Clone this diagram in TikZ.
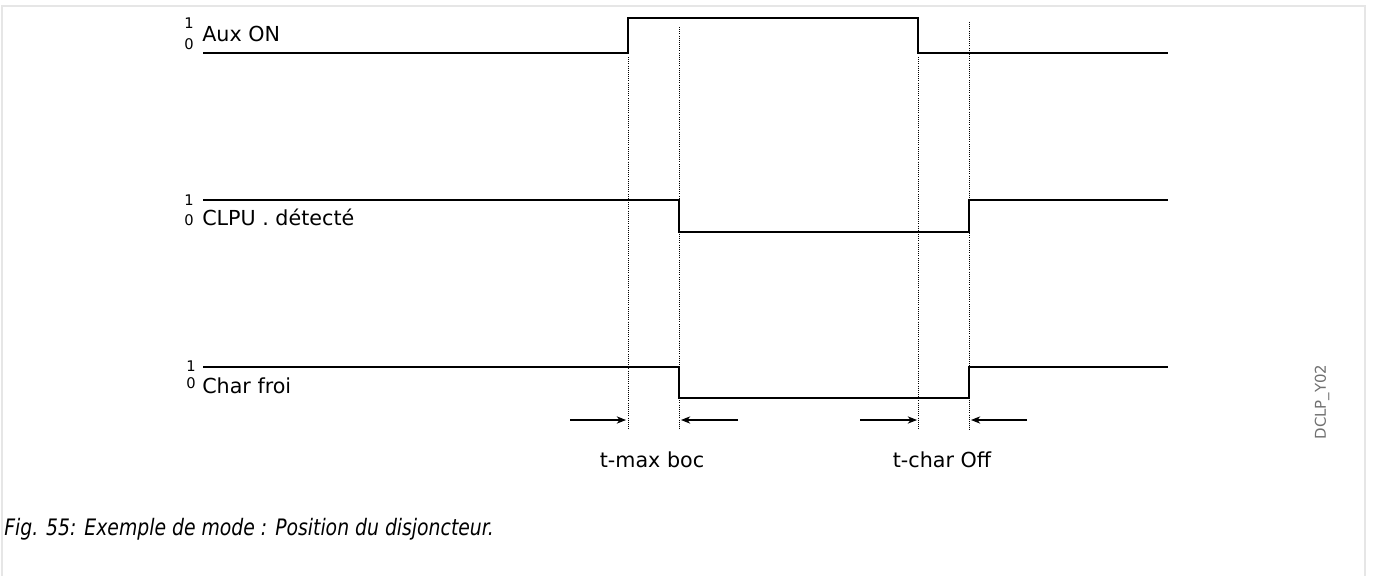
\documentclass[tikz,border=0pt]{standalone}
\usepackage{fontspec}
\setmainfont{DejaVu Sans}
\newfontfamily\captionfont[FakeStretch=0.83]{DejaVu Sans}
\usepackage{tikz}
\usetikzlibrary{arrows.meta}
\definecolor{framegray}{HTML}{E6E6E6}
\definecolor{taggray}{HTML}{707070}

\begin{document}
\begin{tikzpicture}[
  x=0.75pt, y=-0.75pt,
  signal/.style={line width=2.2pt, line join=miter},
  marker/.style={densely dotted, line width=0.6pt},
  timearrow/.style={-{Stealth[length=7pt, width=5.5pt]}, line width=0.8pt},
  siglabel/.style={anchor=base west, inner sep=0pt, font=\fontsize{15.5}{18}\selectfont},
  levellabel/.style={anchor=base, inner sep=0pt, font=\fontsize{11}{13}\selectfont},
  timelabel/.style={anchor=base, inner sep=0pt, font=\fontsize{15.5}{18}\selectfont}
]
\useasboundingbox (0,0) rectangle (1378,576);
\draw[framegray, line width=1.5pt] (2,576) -- (2,6) -- (1365,6) -- (1365,576);

% signals
\draw[signal] (203,53) -- (628,53) -- (628,18) -- (918,18) -- (918,53) -- (1168,53);
\draw[signal] (203,200) -- (679,200) -- (679,232) -- (969,232) -- (969,200) -- (1168,200);
\draw[signal] (203,367) -- (679,367) -- (679,398) -- (969,398) -- (969,367) -- (1168,367);

% signal names and levels
\node[siglabel] (aux) at (202,41) {Aux ON};
\node[levellabel] (aux1) at (189,28) {1};
\node[levellabel] (aux0) at (189,49) {0};
\node[siglabel] (clpu) at (202,225) {CLPU . détecté};
\node[levellabel] (clpu1) at (189,205) {1};
\node[levellabel] (clpu0) at (189,225) {0};
\node[siglabel] (cold) at (202,393) {Char froi};
\node[levellabel] (cold1) at (191,371) {1};
\node[levellabel] (cold0) at (191,388) {0};

% time markers
\coordinate (m1) at (628,57);
\coordinate (m2) at (679,27);
\coordinate (m3) at (918,57);
\coordinate (m4) at (969,22);
\draw[marker] (m1) -- (m1 |- 0,430);
\draw[marker] (m2) -- (m2 |- 0,430);
\draw[marker] (m3) -- (m3 |- 0,430);
\draw[marker] (m4) -- (m4 |- 0,430);

\coordinate (a1) at (570,420);
\coordinate (b1) at (626,420);
\coordinate (a2) at (738,420);
\coordinate (b2) at (681,420);
\coordinate (a3) at (860,420);
\coordinate (b3) at (917,420);
\coordinate (a4) at (1027,420);
\coordinate (b4) at (971,420);
\draw[timearrow] (a1) -- (b1);
\draw[timearrow] (a2) -- (b2);
\draw[timearrow] (a3) -- (b3);
\draw[timearrow] (a4) -- (b4);

\node[timelabel] (tmax) at (652,467) {t-max boc};
\node[timelabel] (tchar) at (942,467) {t-char Off};

% tag and caption
\node[rotate=90, inner sep=0pt, text=taggray, font=\fontsize{11.2}{13}\selectfont] (tag) at (1322,402) {DCLP\_Y02};
\node[anchor=base west, inner sep=0pt, font=\fontsize{17}{20}\captionfont\itshape] (caption) at (4,535)
  {Fig. 55: Exemple de mode : Position du disjoncteur.};
\end{tikzpicture}
\end{document}
